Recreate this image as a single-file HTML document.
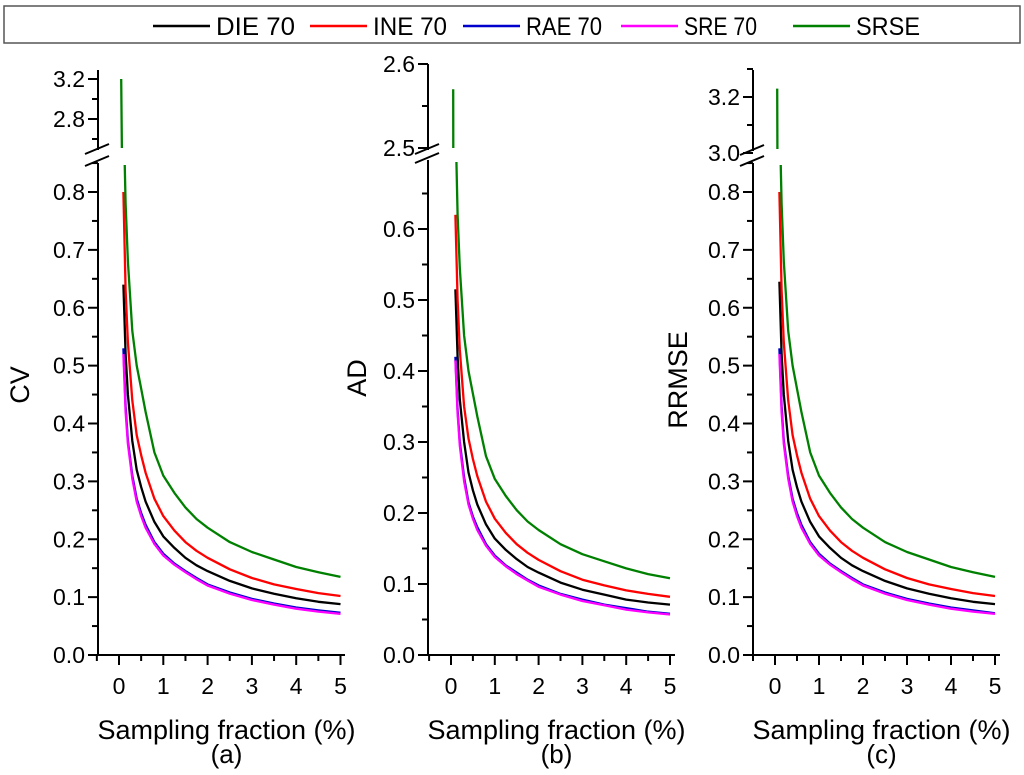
<!DOCTYPE html>
<html><head><meta charset="utf-8"><style>
html,body{margin:0;padding:0;background:#fff;overflow:hidden;width:1024px;height:775px;}
svg{display:block;font-family:"Liberation Sans",Arial,sans-serif;overflow:hidden;}
</style></head><body>
<svg id="chart" width="1024" height="775" viewBox="0 0 1024 775">
<g id="legend">
<rect x="4" y="6" width="1016" height="37" fill="#fff" stroke="#555" stroke-width="1.5"/>
</g>
</svg>
<script>
const xs=[0.1,0.15,0.2,0.3,0.4,0.5,0.6,0.8,1,1.25,1.5,1.75,2,2.5,3,3.5,4,4.5,5];
const xsGreen=[0.05,0.1,0.15,0.2,0.3,0.4,0.5,0.6,0.8,1,1.25,1.5,1.75,2,2.5,3,3.5,4,4.5,5];
const seriesNames=["DIE 70","INE 70","RAE 70","SRE 70","SRSE"];
const seriesColors=["#000000","#ff0000","#0000cc","#ff00ff","#008000"];
const xTicks=[0,1,2,3,4,5];
// Panel a (CV)
const aDIE=[0.64,0.52,0.45,0.37,0.32,0.29,0.265,0.23,0.205,0.185,0.168,0.155,0.145,0.128,0.115,0.106,0.098,0.092,0.088];
const aINE=[0.80,0.63,0.54,0.44,0.38,0.345,0.315,0.27,0.24,0.215,0.195,0.18,0.168,0.148,0.133,0.122,0.114,0.107,0.102];
const aRAE=[0.53,0.43,0.37,0.31,0.27,0.245,0.225,0.195,0.175,0.158,0.145,0.133,0.122,0.108,0.097,0.089,0.082,0.077,0.073];
const aSRE=[0.52,0.42,0.365,0.305,0.265,0.24,0.22,0.192,0.172,0.156,0.143,0.131,0.12,0.106,0.095,0.087,0.08,0.075,0.071];
const aSRSE=[3.2,0.95,0.78,0.68,0.56,0.5,0.46,0.42,0.35,0.31,0.28,0.255,0.235,0.22,0.195,0.178,0.165,0.152,0.143,0.135];
// Panel b (AD)
const bDIE=[0.515,0.42,0.36,0.3,0.257,0.232,0.212,0.184,0.164,0.148,0.135,0.124,0.116,0.102,0.092,0.085,0.078,0.074,0.071];
const bINE=[0.62,0.5,0.43,0.35,0.305,0.276,0.252,0.216,0.192,0.172,0.156,0.144,0.134,0.118,0.106,0.098,0.091,0.086,0.082];
const bRAE=[0.42,0.345,0.3,0.25,0.215,0.195,0.18,0.156,0.14,0.126,0.116,0.106,0.098,0.086,0.078,0.071,0.066,0.061,0.058];
const bSRE=[0.415,0.34,0.295,0.245,0.212,0.192,0.176,0.154,0.138,0.125,0.114,0.105,0.096,0.085,0.076,0.07,0.064,0.06,0.057];
const bSRSE=[2.57,0.76,0.62,0.545,0.45,0.4,0.368,0.336,0.28,0.248,0.224,0.204,0.188,0.176,0.156,0.142,0.132,0.122,0.114,0.108];
// Panel c (RRMSE)
const cDIE=[0.645,0.52,0.45,0.37,0.32,0.29,0.265,0.23,0.205,0.185,0.168,0.155,0.145,0.128,0.115,0.106,0.098,0.092,0.088];
const cINE=[0.80,0.63,0.54,0.44,0.38,0.345,0.315,0.27,0.24,0.215,0.195,0.18,0.168,0.148,0.133,0.122,0.114,0.107,0.102];
const cRAE=[0.53,0.43,0.37,0.31,0.27,0.245,0.225,0.195,0.175,0.158,0.145,0.133,0.122,0.108,0.097,0.089,0.082,0.077,0.072];
const cSRE=[0.52,0.42,0.365,0.305,0.265,0.24,0.22,0.192,0.172,0.156,0.143,0.131,0.12,0.106,0.095,0.087,0.08,0.075,0.071];
const cSRSE=[3.23,0.95,0.78,0.68,0.56,0.5,0.46,0.42,0.35,0.31,0.28,0.255,0.235,0.22,0.195,0.178,0.165,0.152,0.143,0.135];
const aLowTicks=[0,0.1,0.2,0.3,0.4,0.5,0.6,0.7,0.8];
const aUpTicks=[2.8,3.2];
const bLowTicks=[0,0.1,0.2,0.3,0.4,0.5,0.6];
const bUpTicks=[2.5,2.6];
const cLowTicks=[0,0.1,0.2,0.3,0.4,0.5,0.6,0.7,0.8];
const cUpTicks=[3.0,3.2];

const NS="http://www.w3.org/2000/svg";
const svg=document.getElementById('chart');
function el(tag,attrs,parent){const e=document.createElementNS(NS,tag);for(const k in attrs)e.setAttribute(k,attrs[k]);(parent||svg).appendChild(e);return e;}

const legX=[153,310,463,621,793];
const legW=[79,74,76,73,64];
const lg=document.getElementById('legend');
seriesNames.forEach((n,i)=>{
  const l=el('line',{x1:legX[i],x2:legX[i]+57,y1:26,y2:26,stroke:seriesColors[i],'stroke-width':2.5},lg);
  
  
  const t=el('text',{x:legX[i]+63,y:35,'font-size':25,fill:'#000',textLength:legW[i],lengthAdjust:'spacingAndGlyphs'},lg);
  t.textContent=n;
  
  
});

const panels=[
 {id:'a',axisX:98,x0:119,xu:44.3,xEnd:345,title:'CV',titleX:20,titleY:385,
  up:{v0:3.2,y0:79,pp:100,top:70,bot:150,ticks:aUpTicks,minor:[2.6,3.0]},
  low:{pp:578.75,top:163,ticks:aLowTicks},
  data:[aDIE,aINE,aRAE,aSRE],green:aSRSE},
 {id:'b',axisX:428,x0:451,xu:43.8,xEnd:675,title:'AD',titleX:357,titleY:378,
  up:{v0:2.6,y0:64,pp:840,top:64,bot:150,ticks:bUpTicks,minor:[2.55]},
  low:{pp:710,top:160,ticks:bLowTicks},
  data:[bDIE,bINE,bRAE,bSRE],green:bSRSE},
 {id:'c',axisX:753,x0:775,xu:44,xEnd:1000,title:'RRMSE',titleX:678,titleY:380,
  up:{v0:3.2,y0:97,pp:280,top:70,bot:151,ticks:cUpTicks,minor:[3.1,3.3]},
  low:{pp:578.75,top:163,ticks:cLowTicks},
  data:[cDIE,cINE,cRAE,cSRE],green:cSRSE}
];
const Y0=655;
panels.forEach(p=>{
  const g=el('g',{});
  
  
  const X=v=>p.x0+v*p.xu;
  const Yl=v=>Y0-v*p.low.pp;
  const Yu=v=>p.up.y0-(v-p.up.v0)*p.up.pp;
  const cw=p.xEnd-p.axisX+4;
  const defs=el('defs',{},g);
  const c1=el('clipPath',{id:'cl'+p.id},defs);el('rect',{x:p.axisX+1,y:p.low.top+2,width:cw,height:Y0-p.low.top-2},c1);
  const c2=el('clipPath',{id:'cu'+p.id},defs);el('rect',{x:p.axisX+1,y:p.up.top-5,width:cw,height:p.up.bot-2-(p.up.top-5)},c2);
  const ax=el('path',{d:`M${p.axisX},${p.up.top}V${p.up.bot}M${p.axisX},${p.low.top}V${Y0}H${p.xEnd}`,stroke:'#000','stroke-width':2,fill:'none'},g);
  
  [p.up.bot-1,p.low.top-2].forEach(yy=>{
    const b=el('line',{x1:p.axisX-13,y1:yy+5,x2:p.axisX+11,y2:yy-5,stroke:'#000','stroke-width':2},g);
    
  });
  const lt=p.low.ticks;
  lt.forEach((v,i)=>{
    el('line',{x1:p.axisX-10,x2:p.axisX,y1:Yl(v),y2:Yl(v),stroke:'#000','stroke-width':2},g);
    if(i<lt.length-1||Yl(v+0.05)>p.low.top) el('line',{x1:p.axisX-6,x2:p.axisX,y1:Yl(v+0.05),y2:Yl(v+0.05),stroke:'#000','stroke-width':2},g);
    const t=el('text',{x:p.axisX-13,y:Yl(v)+8,'font-size':23,'text-anchor':'end'},g);
    t.textContent=v.toFixed(1);
    
  });
  p.up.ticks.forEach(v=>{
    el('line',{x1:p.axisX-10,x2:p.axisX,y1:Yu(v),y2:Yu(v),stroke:'#000','stroke-width':2},g);
    const t=el('text',{x:p.axisX-13,y:Yu(v)+8,'font-size':23,'text-anchor':'end'},g);
    t.textContent=v.toFixed(1);
    
  });
  p.up.minor.forEach(v=>el('line',{x1:p.axisX-6,x2:p.axisX,y1:Yu(v),y2:Yu(v),stroke:'#000','stroke-width':2},g));
  xTicks.forEach(v=>{
    el('line',{x1:X(v),x2:X(v),y1:Y0,y2:Y0+10,stroke:'#000','stroke-width':2},g);
    el('line',{x1:X(v-0.5),x2:X(v-0.5),y1:Y0,y2:Y0+6,stroke:'#000','stroke-width':2},g);
    const t=el('text',{x:X(v),y:Y0+39,'font-size':23,'text-anchor':'middle'},g);
    t.textContent=String(v);
    
  });
  const yt=el('text',{x:p.titleX,y:p.titleY,'font-size':27,'text-anchor':'middle',transform:`rotate(-90 ${p.titleX} ${p.titleY})`,dy:9},g);
  yt.textContent=p.title;
  const cx=(p.axisX+p.xEnd)/2+5;
  const xt=el('text',{x:cx,y:739,'font-size':27,'text-anchor':'middle'},g);
  xt.textContent='Sampling fraction (%)';
  const pl=el('text',{x:cx,y:763,'font-size':26,'text-anchor':'middle'},g);
  pl.textContent='('+p.id+')';
  const all=[...p.data.map((d,i)=>({xv:xs,yv:d,c:seriesColors[i],n:seriesNames[i]})),{xv:xsGreen,yv:p.green,c:seriesColors[4],n:'SRSE'}];
  all.forEach(s=>{
    const dl=s.xv.map((x,i)=>(i?'L':'M')+X(x).toFixed(1)+','+Yl(s.yv[i]).toFixed(1)).join('');
    const pth=el('path',{d:dl,stroke:s.c,'stroke-width':2.3,fill:'none','clip-path':`url(#cl${p.id})`,'stroke-linejoin':'round'},g);
    
    
    if(s.yv[0]>p.up.v0-1){
      const du=s.xv.map((x,i)=>(i?'L':'M')+X(x).toFixed(1)+','+Yu(s.yv[i]).toFixed(1)).join('');
      const pu=el('path',{d:du,stroke:s.c,'stroke-width':2.3,fill:'none','clip-path':`url(#cu${p.id})`},g);
      
      
    }
  });
});
</script>
</body></html>
